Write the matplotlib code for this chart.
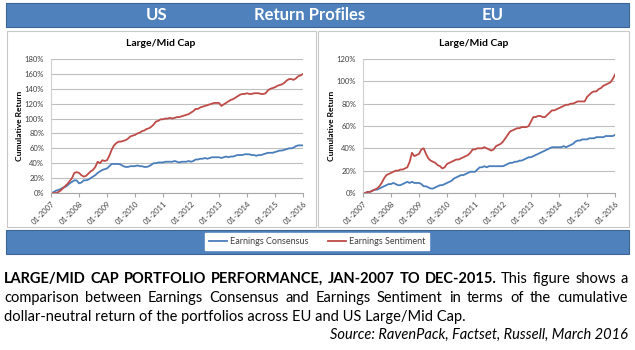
import matplotlib
matplotlib.use("Agg")
import matplotlib.pyplot as plt
from matplotlib.patches import Rectangle
from matplotlib.lines import Line2D
import numpy as np

plt.rcParams['font.family'] = ['Lato', 'DejaVu Sans']

# monthly cumulative return (%), Jan-2007 .. Jan-2016
us_consensus = [
    0, 1, 3, 4, 5, 7, 8, 10, 13, 15, 17, 17,
    13, 14, 17, 17, 18, 20, 22, 24, 27, 29, 31, 32,
    33, 36, 39, 39, 39, 39, 38, 36, 35, 35, 36, 36,
    36, 37, 36, 36, 35, 35, 36, 38, 40, 40, 41, 41,
    41, 42, 42, 42, 42, 43, 42, 41, 42, 42, 42, 43,
    42, 43, 45, 45, 46, 46, 47, 46, 47, 48, 48, 48,
    48, 47, 48, 49, 48, 49, 49, 50, 51, 51, 51, 52,
    52, 52, 51, 51, 50, 51, 51, 52, 53, 54, 54, 54,
    55, 56, 57, 57, 58, 59, 60, 60, 61, 63, 64, 64,
    64]
us_sentiment = [
    0, 0, 0, 1, 3, 6, 9, 12, 16, 20, 27, 28,
    27, 24, 22, 23, 26, 29, 31, 35, 42, 40, 44, 43,
    44, 50, 58, 64, 67, 69, 69, 70, 71, 73, 76, 77,
    78, 80, 81, 83, 84, 86, 87, 89, 92, 96, 97, 99,
    99, 100, 100, 101, 100, 101, 102, 102, 103, 104, 105, 106,
    108, 110, 113, 113, 115, 116, 117, 118, 119, 120, 121, 121,
    121, 117, 119, 121, 123, 125, 126, 128, 130, 132, 133, 133,
    134, 133, 133, 134, 134, 134, 133, 133, 134, 138, 140, 141,
    142, 144, 145, 146, 148, 151, 153, 153, 152, 154, 157, 158,
    160]
eu_consensus = [
    0, 0, 1, 1, 2, 3, 3, 4, 5, 6, 7, 8,
    8, 9, 8, 7, 7, 8, 9, 10, 9, 10, 9, 9,
    9, 8, 6, 6, 5, 4, 4, 5, 6, 7, 7, 8,
    9, 10, 11, 13, 14, 15, 16, 16, 17, 18, 19, 19,
    19, 21, 23, 23, 24, 23, 24, 24, 24, 24, 24, 24,
    24, 25, 26, 27, 27, 28, 28, 29, 29, 30, 31, 32,
    32, 33, 34, 35, 36, 37, 38, 39, 40, 41, 41, 41,
    41, 41, 42, 41, 42, 43, 44, 46, 47, 47, 48, 48,
    48, 49, 49, 49, 50, 50, 50, 50, 51, 51, 51, 51,
    52]
eu_sentiment = [
    0, 0, 1, 1, 2, 3, 4, 6, 9, 13, 16, 17,
    18, 19, 20, 20, 21, 21, 22, 23, 28, 36, 33, 34,
    35, 39, 40, 35, 31, 29, 28, 27, 25, 24, 22, 23,
    26, 27, 28, 29, 30, 30, 31, 32, 33, 34, 36, 39,
    39, 40, 40, 40, 41, 40, 39, 38, 39, 42, 43, 44,
    46, 49, 52, 55, 56, 57, 58, 58, 59, 59, 59, 60,
    64, 68, 68, 69, 69, 68, 68, 70, 72, 74, 74, 75,
    76, 77, 78, 79, 79, 80, 80, 81, 82, 82, 82, 82,
    86, 88, 90, 91, 91, 93, 94, 96, 97, 98, 99, 102,
    106]

years = list(range(2007, 2017))
year_labels = ["01-%d" % y for y in years]
months = 2007 + np.arange(len(us_consensus)) / 12.0

BLUE = "#4A7EBB"
RED = "#BE4B48"
BANNER = "#4F81BD"
BANNER_EDGE = "#3A6494"

W, H = 635, 350
fig = plt.figure(figsize=(6.35, 3.5), dpi=100)


def fx(px):
    return px / W


def fy(py):
    return 1 - py / H


def box(x0, y0, x1, y1, **kw):
    fig.patches.append(Rectangle((fx(x0), fy(y1)), fx(x1) - fx(x0), fy(y0) - fy(y1),
                                 transform=fig.transFigure, zorder=-5, **kw))


# banners and panels
box(6, 3, 629, 27, facecolor=BANNER, edgecolor=BANNER_EDGE, lw=0.8)
box(6, 230, 629, 254, facecolor=BANNER, edgecolor=BANNER_EDGE, lw=0.8)
box(7, 31, 316, 227, facecolor="white", edgecolor="#C8C8C8", lw=0.8)
box(318, 31, 629, 227, facecolor="white", edgecolor="#C8C8C8", lw=0.8)

for x, s in [(157, "US"), (310, "Return Profiles"), (493, "EU")]:
    fig.text(fx(x), fy(15.5), s, color="white", fontsize=12, fontweight="bold",
             ha="center", va="center")


def draw_panel(rect, cons, sent, ymax, title_x, ylabel_x):
    ax = fig.add_axes(rect, zorder=2)
    ax.patch.set_alpha(0)
    ax.plot(months, cons, color=BLUE, lw=1.3)
    ax.plot(months, sent, color=RED, lw=1.3)
    ax.set_xlim(2007, 2016)
    ax.set_ylim(0, ymax)
    ax.set_yticks(range(0, ymax + 1, 20))
    ax.set_yticklabels(["%d%%" % v for v in range(0, ymax + 1, 20)])
    ax.set_xticks(years)
    ax.set_xticklabels(year_labels, rotation=45, ha="right", rotation_mode="anchor")
    ax.grid(axis="y", color="#BFBFBF", lw=0.8)
    ax.set_axisbelow(True)
    for s in ["top", "right"]:
        ax.spines[s].set_visible(False)
    ax.spines["left"].set_color("#D0D0D0")
    ax.spines["bottom"].set_color("#A6A6A6")
    ax.tick_params(axis="y", length=0, labelsize=5.5, labelcolor="#404040", pad=5)
    ax.tick_params(axis="x", length=3, color="#A6A6A6", labelsize=5.5,
                   labelcolor="#404040", pad=2)
    fig.text(fx(title_x), fy(44), "Large/Mid Cap", fontsize=7.5, fontweight="bold",
             ha="center", va="center")
    fig.text(fx(ylabel_x), fy(126), "Cumulative Return", fontsize=6, fontweight="bold",
             rotation=90, ha="center", va="center")
    return ax


draw_panel([fx(51), fy(193), fx(303) - fx(51), fy(59) - fy(193)],
           us_consensus, us_sentiment, 180, 161, 20)
draw_panel([fx(363), fy(193), fx(615) - fx(363), fy(59) - fy(193)],
           eu_consensus, eu_sentiment, 120, 474, 331)

handles = [Line2D([], [], color=BLUE, lw=1.3), Line2D([], [], color=RED, lw=1.3)]
leg = fig.legend(handles, ["Earnings Consensus", "Earnings Sentiment"], ncol=2,
                 loc="center", bbox_to_anchor=(fx(317), fy(241.5)), fontsize=6.5,
                 frameon=True, fancybox=False, edgecolor="white", framealpha=1,
                 handlelength=2.0, handletextpad=0.3, columnspacing=2.2,
                 borderpad=0.45)
for t in leg.get_texts():
    t.set_color("#404040")

# caption
renderer = fig.canvas.get_renderer()
CAP = 10.5


def justify(words, styles, y, x0, x1):
    texts, widths = [], []
    for w, (wt, st) in zip(words, styles):
        t = fig.text(0, fy(y), w, fontsize=CAP, fontweight=wt, fontstyle=st,
                     va="baseline", ha="left")
        texts.append(t)
        widths.append(t.get_window_extent(renderer).width)
    gap = ((x1 - x0) - sum(widths)) / (len(words) - 1)
    x = x0
    for t, wd in zip(texts, widths):
        t.set_x(fx(x))
        x += wd + gap


bold_part = "LARGE/MID CAP PORTFOLIO PERFORMANCE, JAN-2007 TO DEC-2015.".split()
reg_part = "This figure shows a".split()
justify(bold_part + reg_part,
        [("bold", "normal")] * len(bold_part) + [("normal", "normal")] * len(reg_part),
        283, 4, 628)
line2 = "comparison between Earnings Consensus and Earnings Sentiment in terms of the cumulative".split()
justify(line2, [("normal", "normal")] * len(line2), 302, 4, 628)
fig.text(fx(4), fy(320.5),
         "dollar-neutral return of the portfolios across EU and US Large/Mid Cap.",
         fontsize=CAP, va="baseline", ha="left")
fig.text(fx(628), fy(339), "Source: RavenPack, Factset, Russell, March 2016",
         fontsize=CAP, fontstyle="italic", va="baseline", ha="right")

fig.savefig("out.png", dpi=100)
